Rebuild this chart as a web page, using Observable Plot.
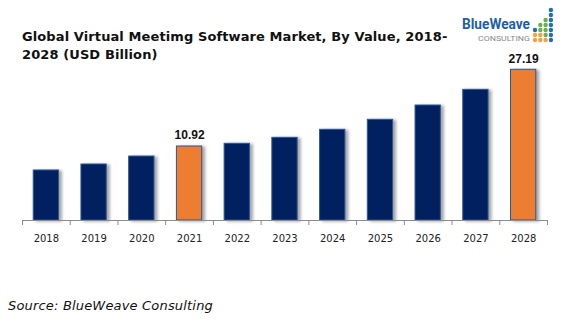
<!DOCTYPE html>
<html>
<head>
<meta charset="utf-8">
<script src="https://cdn.jsdelivr.net/npm/d3@7"></script>
<script src="https://cdn.jsdelivr.net/npm/@observablehq/plot@0.6"></script>
<style>
  html, body { margin: 0; padding: 0; background: #fff; }
  #wrap { position: relative; width: 569px; height: 321px; overflow: hidden; }
  #title { position: absolute; left: 22px; top: 28px; font-family: "DejaVu Sans", Verdana, sans-serif; font-weight: bold; font-size: 13px; letter-spacing: 0.1px; line-height: 18px; color: #111; }
  #source { position: absolute; left: 8px; top: 298px; font-family: "DejaVu Sans", Verdana, sans-serif; font-style: italic; font-size: 13px; letter-spacing: 0.18px; color: #111; }
  #logo { position: absolute; left: 455px; top: 4px; }
  #chart { position: absolute; left: 0; top: 0; }
</style>
</head>
<body>
<div id="wrap">
  <div id="chart"></div>
  <div id="title">Global Virtual Meetimg Software Market, By Value, 2018-<br>2028 (USD Billion)</div>
  <div id="logo"></div>
  <div id="source">Source: BlueWeave Consulting</div>
</div>
<script>
const years = ["2018","2019","2020","2021","2022","2023","2024","2025","2026","2027","2028"];
const values = [5.83, 7.10, 8.79, 10.92, 11.49, 12.76, 14.46, 16.58, 19.61, 22.94, 27.19];
const highlighted = ["2021", "2028"];
const labelled = ["2021", "2028"];

const W = 569, H = 321;
const mL = 22, mR = 22, mT = 60, mB = 101;
const yBase = -4.78, yTop = 29.16;
const step = (W - mL - mR) / years.length;
const pxPerUnit = (H - mT - mB) / (yTop - yBase);
const tickLen = 5 / pxPerUnit;

const data = years.map((y, i) => ({year: y, value: values[i]}));

const chart = Plot.plot({
  width: W,
  height: H,
  marginLeft: mL,
  marginRight: mR,
  marginTop: mT,
  marginBottom: mB,
  x: {domain: years, paddingInner: 0.47, paddingOuter: 0.235, round: false, label: null},
  y: {domain: [yBase, yTop], axis: null},
  style: {fontFamily: "DejaVu Sans, Verdana, sans-serif", background: "transparent"},
  marks: [
    Plot.barY(data, {
      x: "year", y1: yBase, y2: "value",
      fill: d => highlighted.includes(d.year) ? "#ED7D31" : "#002060",
      stroke: "#2F5597", strokeWidth: 1
    }),
    Plot.ruleY([yBase], {stroke: "#8c8c8c", strokeWidth: 1}),
    Plot.ruleX(years, {x: d => d, dx: -step / 2, y1: yBase, y2: yBase - tickLen, stroke: "#8c8c8c"}),
    Plot.ruleX([years[years.length - 1]], {x: d => d, dx: step / 2, y1: yBase, y2: yBase - tickLen, stroke: "#8c8c8c"}),
    Plot.text(data.filter(d => labelled.includes(d.year)), {
      x: "year", y: "value", text: d => d.value.toFixed(2),
      dy: -11, fontWeight: "bold", fontSize: 12,
      fontFamily: "Liberation Sans, Arial, sans-serif", fill: "#111"
    }),
    Plot.axisX({tickSize: 0, tickPadding: 14, fontSize: 10, color: "#222", label: null})
  ]
});
chart.querySelectorAll('g[aria-label="bar"] rect').forEach(r => {
  r.style.filter = "drop-shadow(3px 1px 1.5px rgba(0,0,0,0.35))";
});
document.getElementById("chart").appendChild(chart);

// logo
const dots = [
  [3,0,"#1F6FB5"],[3,1,"#1F6FB5"],[2,2,"#6AB04C"],[3,2,"#1F6FB5"],
  [1,3,"#6AB04C"],[2,3,"#6AB04C"],[3,3,"#1F6FB5"],
  [0,4,"#1F6FB5"],[1,4,"#6AB04C"],[2,4,"#6AB04C"],[3,4,"#1F6FB5"],
  [0,5,"#F2A33A"],[1,5,"#F2A33A"],[2,5,"#6AB04C"],[3,5,"#1F6FB5"],
  [0,6,"#F2A33A"],[1,6,"#F2A33A"],[2,6,"#F2A33A"],[3,6,"#1F6FB5"]
];
const ns = "http://www.w3.org/2000/svg";
const logo = document.createElementNS(ns, "svg");
logo.setAttribute("width", 110); logo.setAttribute("height", 42);
const t1 = document.createElementNS(ns, "text");
t1.setAttribute("x", 7); t1.setAttribute("y", 25);
t1.setAttribute("textLength", 68); t1.setAttribute("lengthAdjust", "spacingAndGlyphs");
t1.setAttribute("font-family", "Roboto, Liberation Sans, sans-serif");
t1.setAttribute("font-weight", "bold"); t1.setAttribute("font-size", 14.5);
t1.setAttribute("fill", "#1F5FAA"); t1.textContent = "BlueWeave";
logo.appendChild(t1);
const t2 = document.createElementNS(ns, "text");
t2.setAttribute("x", 23); t2.setAttribute("y", 36.5);
t2.setAttribute("textLength", 52); t2.setAttribute("lengthAdjust", "spacingAndGlyphs");
t2.setAttribute("font-family", "Roboto, Liberation Sans, sans-serif");
t2.setAttribute("font-size", 8);
t2.setAttribute("fill", "#8a8a8a"); t2.textContent = "CONSULTING";
logo.appendChild(t2);
dots.forEach(([c, r, col]) => {
  const ci = document.createElementNS(ns, "circle");
  ci.setAttribute("cx", 80 + c * 5.3); ci.setAttribute("cy", 6 + r * 5);
  ci.setAttribute("r", 2.2); ci.setAttribute("fill", col);
  logo.appendChild(ci);
});
document.getElementById("logo").appendChild(logo);
</script>
</body>
</html>
